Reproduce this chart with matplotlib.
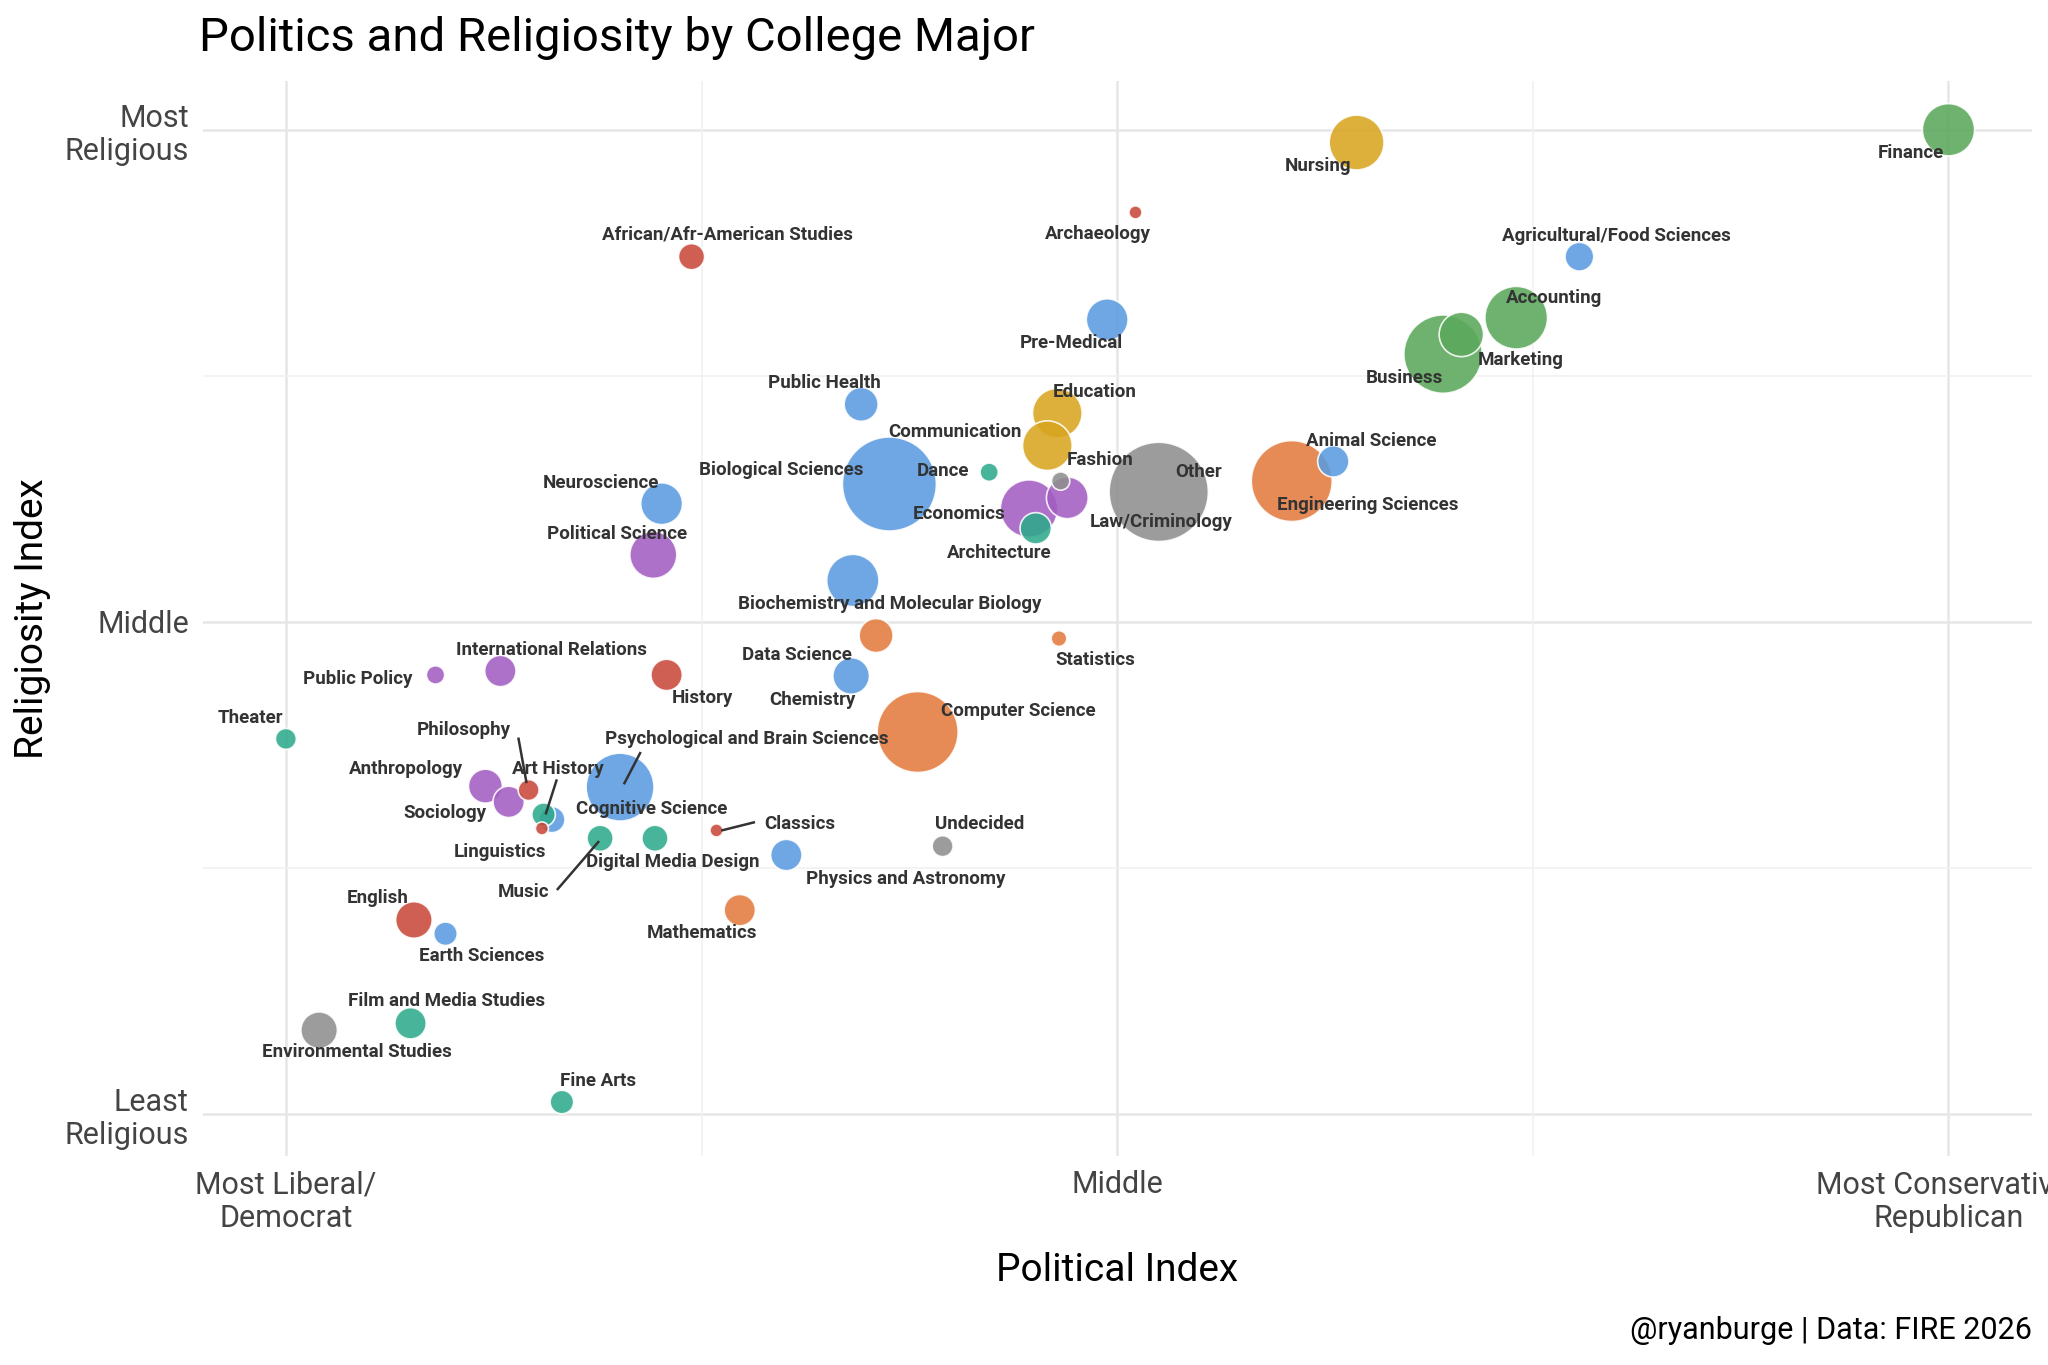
import matplotlib
matplotlib.use("Agg")
import matplotlib.pyplot as plt

FONT = ['Liberation Sans Narrow', 'Roboto', 'DejaVu Sans']
plt.rcParams['font.family'] = FONT

# ── data (0-100 index scales) ────────────────────────────────────────────────
majors = ["Finance", "Nursing", "Archaeology", "African/Afr-American Studies",
          "Agricultural/Food Sciences", "Pre-Medical", "Accounting", "Marketing",
          "Business", "Public Health", "Education", "Communication",
          "Animal Science", "Dance", "Fashion", "Biological Sciences", "Other",
          "Engineering Sciences", "Neuroscience", "Economics", "Law/Criminology",
          "Architecture", "Political Science",
          "Biochemistry and Molecular Biology", "Statistics", "Data Science",
          "Chemistry", "History", "International Relations", "Public Policy",
          "Computer Science", "Theater", "Psychological and Brain Sciences",
          "Anthropology", "Philosophy", "Sociology", "Art History",
          "Cognitive Science", "Linguistics", "Music", "Digital Media Design",
          "Classics", "Physics and Astronomy", "Undecided", "Mathematics",
          "English", "Earth Sciences", "Film and Media Studies",
          "Environmental Studies", "Fine Arts"]
political = [100, 64.4, 51.1, 24.4, 77.8, 49.4, 74.0, 70.7, 69.6, 34.6, 46.4,
             45.8, 63.0, 42.3, 46.6, 36.3, 52.5, 60.5, 22.6, 44.7, 47.0, 45.1,
             22.1, 34.1, 46.5, 35.5, 34.0, 22.9, 12.9, 9.0, 38.0, 0.0, 20.1,
             12.0, 14.6, 13.4, 16.0, 15.5, 15.4, 18.9, 22.2, 25.9, 30.1, 39.5,
             27.3, 7.7, 9.6, 7.5, 2.0, 16.6]
religiosity = [100, 98.7, 91.6, 87.1, 87.1, 80.7, 80.9, 79.2, 77.2, 72.1, 71.2,
               67.9, 66.3, 65.2, 64.3, 64.0, 63.2, 64.3, 62.0, 61.5, 62.6, 59.5,
               56.8, 54.2, 48.3, 48.6, 44.5, 44.6, 45.0, 44.6, 38.8, 38.1, 33.2,
               33.3, 32.9, 31.7, 29.9, 30.4, 29.0, 28.0, 28.0, 28.8, 26.3, 27.2,
               20.7, 19.7, 18.3, 9.2, 8.5, 1.2]
n_size = [20, 21, 5, 10, 11, 16, 24, 17, 30, 13, 19, 19, 12, 7, 7, 36, 38, 31,
          16, 22, 16, 12, 18, 20, 6, 13, 14, 12, 12, 7, 31, 8, 26, 13, 8, 12,
          10, 9, 5, 10, 10, 5, 12, 8, 12, 14, 9, 12, 14, 9]
group = ["green", "gold", "red", "red", "blue", "blue", "green", "green",
         "green", "blue", "gold", "gold", "blue", "teal", "gray", "blue", "gray",
         "orange", "blue", "purple", "purple", "teal", "purple", "blue",
         "orange", "orange", "blue", "red", "purple", "purple", "orange", "teal",
         "blue", "purple", "red", "purple", "blue", "teal", "red", "teal",
         "teal", "red", "blue", "gray", "orange", "red", "blue", "teal", "gray",
         "teal"]

PALETTE = {"green": "#5BA85B", "gold": "#D9A521", "red": "#C8493A",
           "blue": "#5A9BE0", "teal": "#2FAA8C", "gray": "#8F8F8F",
           "orange": "#E37B3E", "purple": "#A35DC2"}

# label placement, read in reference-image pixels (1568-wide preview)
LABEL_PX = {
    "Finance": (1462, 118), "Nursing": (1009, 128), "Archaeology": (840, 180),
    "African/Afr-American Studies": (557, 180),
    "Agricultural/Food Sciences": (1237, 181), "Pre-Medical": (820, 263),
    "Accounting": (1189, 229), "Marketing": (1164, 276), "Business": (1075, 290),
    "Public Health": (631, 294), "Education": (838, 301),
    "Communication": (731, 331), "Animal Science": (1049, 338),
    "Dance": (722, 361), "Fashion": (842, 353),
    "Biological Sciences": (598, 360), "Other": (917, 362),
    "Engineering Sciences": (1047, 387), "Neuroscience": (460, 370),
    "Economics": (734, 394), "Law/Criminology": (889, 400),
    "Architecture": (765, 424), "Political Science": (472, 409),
    "Biochemistry and Molecular Biology": (681, 463), "Statistics": (838, 506),
    "Data Science": (610, 502), "Chemistry": (622, 536), "History": (538, 535),
    "International Relations": (422, 498), "Public Policy": (274, 520),
    "Computer Science": (779, 545), "Theater": (192, 550),
    "Psychological and Brain Sciences": (572, 566), "Anthropology": (311, 589),
    "Philosophy": (355, 559), "Art History": (427, 589), "Sociology": (341, 623),
    "Cognitive Science": (499, 620), "Linguistics": (383, 653),
    "Music": (401, 683), "Digital Media Design": (515, 660),
    "Classics": (612, 631), "Physics and Astronomy": (693, 673),
    "Undecided": (750, 631), "Mathematics": (537, 715), "English": (289, 688),
    "Earth Sciences": (369, 732), "Film and Media Studies": (342, 767),
    "Environmental Studies": (273, 806), "Fine Arts": (458, 828),
}
LEADERS = {"Psychological and Brain Sciences": ((490, 577), (478, 600)),
           "Philosophy": ((397, 566), (403, 599)),
           "Art History": ((426, 598), (418, 623)),
           "Music": ((427, 681), (458, 645)),
           "Classics": ((577, 630), (553, 636))}


def px2data(px, py):
    return (px - 219) / 12.72, (853 - py) / 7.53


fig = plt.figure(figsize=(20.48, 13.65), dpi=100)
ax = fig.add_axes([0.099, 0.153, 0.893, 0.788])
ax.set_xlim(-5, 105)
ax.set_ylim(-4.3, 105)
for s in ax.spines.values():
    s.set_visible(False)

for v in (0, 50, 100):
    ax.axvline(v, color="#e6e6e6", lw=1.8, zorder=0)
    ax.axhline(v, color="#e6e6e6", lw=1.8, zorder=0)
for v in (25, 75):
    ax.axvline(v, color="#f0f0f0", lw=1.1, zorder=0)
    ax.axhline(v, color="#f0f0f0", lw=1.1, zorder=0)

order = sorted(range(len(majors)), key=lambda i: -n_size[i])
ax.scatter([political[i] for i in order], [religiosity[i] for i in order],
           s=[(2 * n_size[i] * 0.94) ** 2 for i in order],
           c=[PALETTE[group[i]] for i in order], alpha=0.88,
           edgecolors="white", linewidths=1.2, zorder=3)

for name in majors:
    lx, ly = px2data(*LABEL_PX[name])
    ax.text(lx, ly, name, ha="center", va="center", fontsize=13.5,
            fontweight="bold", color="#333333", zorder=5)
for name, (a, b) in LEADERS.items():
    x1, y1 = px2data(*a)
    x2, y2 = px2data(*b)
    ax.plot([x1, x2], [y1, y2], color="#333333", lw=1.8, zorder=4)

ax.set_xticks([0, 50, 100])
ax.set_xticklabels(["Most Liberal/\nDemocrat", "Middle",
                    "Most Conservative/\nRepublican"])
ax.set_yticks([0, 50, 100])
ax.set_yticklabels(["Least\nReligious", "Middle", "Most\nReligious"],
                   ha="right", multialignment="right")
ax.tick_params(length=0, labelsize=22, labelcolor="#444444", pad=10)
ax.set_xlabel("Political Index", fontsize=28, labelpad=14)
ax.set_ylabel("Religiosity Index", fontsize=28, labelpad=10)

fig.text(0.097, 0.972, "Politics and Religiosity by College Major",
         fontsize=34, va="center", ha="left")
fig.text(0.992, 0.025, "@ryanburge | Data: FIRE 2026", fontsize=22,
         ha="right", va="center")

fig.savefig("out.png", dpi=100, facecolor="white")
